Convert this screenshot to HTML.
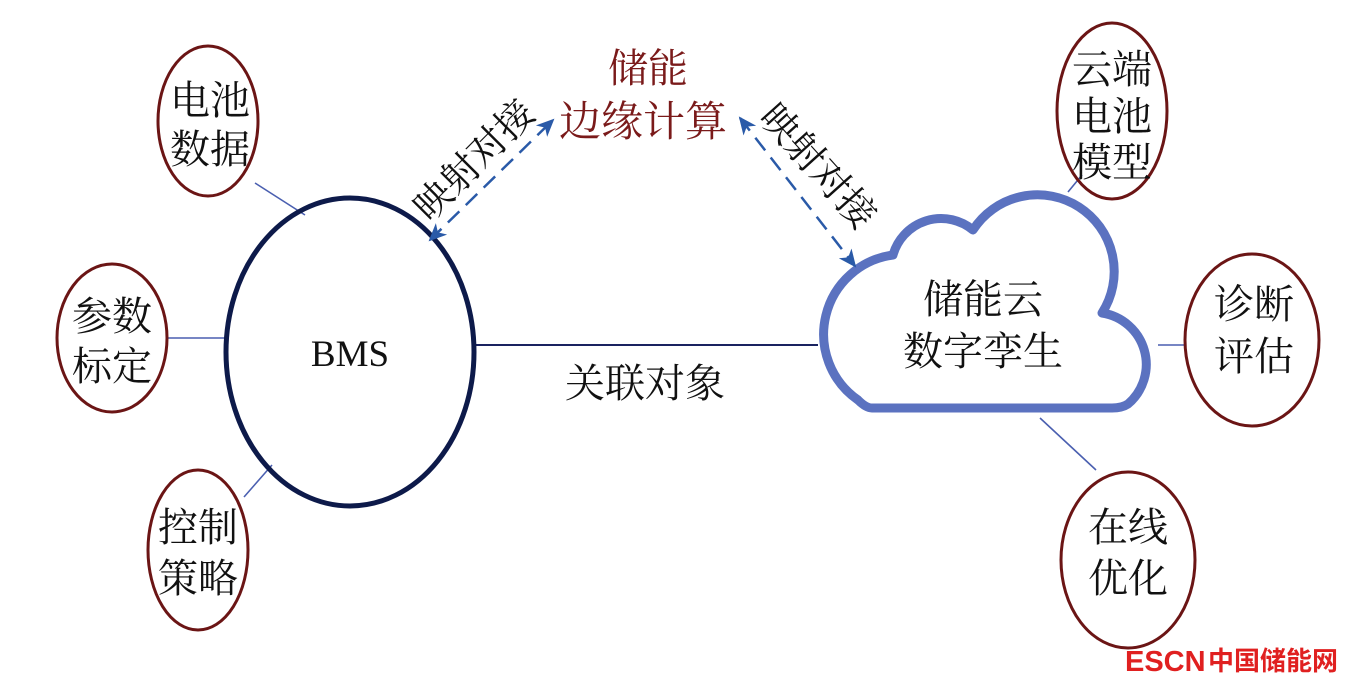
<!DOCTYPE html>
<html><head><meta charset="utf-8"><style>
html,body{margin:0;padding:0;background:#fff;}
svg{display:block;}
text{font-family:"Liberation Serif","Noto Serif CJK SC",serif;fill:#111;}
</style></head><body>
<svg width="1359" height="689" viewBox="0 0 1359 689" xmlns="http://www.w3.org/2000/svg">
<defs>
<marker id="ah" markerWidth="18" markerHeight="16" refX="16" refY="8" orient="auto-start-reverse" markerUnits="userSpaceOnUse" viewBox="0 0 18 16">
<path d="M0,0 L18,8 L0,16 L5,8 Z" fill="#2a5aa8"/>
</marker>
</defs>
<g stroke="#4a5fb0" stroke-width="1.6">
<line x1="255" y1="183" x2="305" y2="215"/>
<line x1="167" y1="338" x2="226" y2="338"/>
<line x1="244" y1="497" x2="272" y2="465"/>
<line x1="1068" y1="192" x2="1082" y2="175"/>
<line x1="1158" y1="345" x2="1186" y2="345"/>
<line x1="1040" y1="418" x2="1096" y2="470"/>
</g>
<line x1="474" y1="345" x2="818" y2="345" stroke="#1a2360" stroke-width="2"/>
<ellipse cx="350" cy="352" rx="124" ry="154" fill="none" stroke="#0d1a4a" stroke-width="5"/>
<g fill="none" stroke="#6b1515" stroke-width="3">
<ellipse cx="208" cy="121" rx="50" ry="75"/>
<ellipse cx="112" cy="338" rx="55" ry="74"/>
<ellipse cx="198" cy="550" rx="50" ry="80"/>
<ellipse cx="1112" cy="111" rx="55" ry="88"/>
<ellipse cx="1252" cy="340" rx="67" ry="86"/>
<ellipse cx="1128" cy="560" rx="67" ry="88"/>
</g>
<path d="M872 408 L1112 408 Q1122 408 1128 404 A52 52 0 0 0 1102 313 A76 76 0 0 0 973 230 A50 50 0 0 0 893 255 A80 80 0 0 0 858 400 Q866 408 872 408 Z" fill="#fff" stroke="#5b72c0" stroke-width="9" stroke-linejoin="round"/>
<g stroke="#2a5aa8" stroke-width="2.5" stroke-dasharray="16 9" fill="none">
<line x1="430" y1="240" x2="553" y2="120" marker-start="url(#ah)" marker-end="url(#ah)"/>
<line x1="740" y1="118" x2="855" y2="266" marker-start="url(#ah)" marker-end="url(#ah)"/>
</g>
<g font-size="40" text-anchor="middle">
<text x="210" y="114">电池</text><text x="210" y="163">数据</text>
<text x="112" y="330">参数</text><text x="112" y="380">标定</text>
<text x="198" y="541">控制</text><text x="198" y="592">策略</text>
<text x="1112" y="83">云端</text><text x="1112" y="130">电池</text><text x="1112" y="176">模型</text>
<text x="1254" y="318">诊断</text><text x="1254" y="370">评估</text>
<text x="1128" y="541">在线</text><text x="1128" y="592">优化</text>
<text x="983" y="313">储能云</text><text x="983" y="365">数字孪生</text>
<text x="350" y="366" font-size="37">BMS</text>
<text x="645" y="397">关联对象</text>
<text x="648" y="82" style="fill:#7a1a1a">储能</text>
<text x="643" y="136" font-size="42" style="fill:#7a1a1a">边缘计算</text>
<text transform="translate(474,160) rotate(-45)" y="13" font-size="38">映射对接</text>
<text transform="translate(818,166) rotate(48)" y="13" font-size="38">映射对接</text>
</g>
<text x="1125" y="671" font-size="29" font-weight="bold" style="fill:#e02020;font-family:'Liberation Sans','Noto Sans CJK SC',sans-serif">ESCN</text>
<text x="1208" y="670" font-size="26" font-weight="bold" style="fill:#e02020;font-family:'Liberation Sans','Noto Sans CJK SC',sans-serif">中国储能网</text>
</svg>
</body></html>
